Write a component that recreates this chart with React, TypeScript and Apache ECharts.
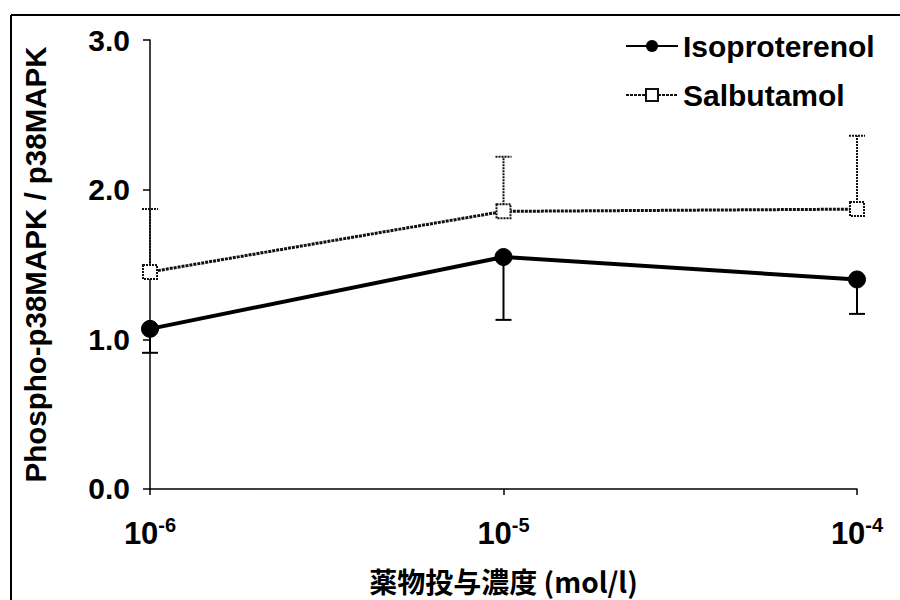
import React, { useEffect, useRef } from "react";
import * as echarts from "echarts";

const concentrations = [1e-6, 1e-5, 1e-4];
const isoproterenolMean = [1.07, 1.55, 1.40];
const isoproterenolLow = [0.91, 1.13, 1.17];
const salbutamolMean = [1.45, 1.855, 1.87];
const salbutamolHigh = [1.87, 2.22, 2.36];
const yTicks = [0, 1, 2, 3];

const FONT = "Liberation Sans, Arial, sans-serif";

function errorRender(color: string, dash: any, width: number) {
  return (params: any, api: any) => {
    const x = api.value(0);
    const from = api.coord([x, api.value(1)]);
    const to = api.coord([x, api.value(2)]);
    const half = 8;
    return {
      type: "group",
      children: [
        {
          type: "line",
          shape: { x1: from[0], y1: from[1], x2: to[0], y2: to[1] },
          style: { stroke: color, lineWidth: width, lineDash: dash },
        },
        {
          type: "line",
          shape: { x1: to[0] - half, y1: to[1], x2: to[0] + half, y2: to[1] },
          style: { stroke: color, lineWidth: width, lineDash: dash },
        },
      ],
    };
  };
}

export default function App() {
  const ref = useRef<HTMLDivElement>(null);
  useEffect(() => {
    if (!ref.current) return;
    const chart = echarts.init(ref.current, null, { renderer: "svg" });
    const isoData = concentrations.map((c, i) => [c, isoproterenolMean[i]]);
    const salData = concentrations.map((c, i) => [c, salbutamolMean[i]]);
    const isoErr = concentrations.map((c, i) => [c, isoproterenolMean[i], isoproterenolLow[i]]);
    const salErr = concentrations.map((c, i) => [c, salbutamolMean[i], salbutamolHigh[i]]);
    chart.setOption({
      animation: false,
      backgroundColor: "#fff",
      textStyle: { fontFamily: FONT },
      grid: { left: 150, right: 43, top: 40, bottom: 107, containLabel: false },
      graphic: [
        { type: "line", shape: { x1: 11, y1: 15, x2: 900, y2: 15 }, style: { stroke: "#000", lineWidth: 2 } },
        { type: "line", shape: { x1: 11, y1: 15, x2: 11, y2: 600 }, style: { stroke: "#000", lineWidth: 2 } },
      ],
      legend: {
        orient: "vertical",
        left: 620,
        top: 25,
        itemWidth: 52,
        itemHeight: 15,
        itemGap: 17,
        textStyle: { fontSize: 30, fontWeight: "bold", color: "#000", fontFamily: FONT, lineHeight: 32 },
        data: ["Isoproterenol", "Salbutamol"],
      },
      xAxis: {
        type: "log",
        logBase: 10,
        min: 1e-6,
        max: 1e-4,
        name: "薬物投与濃度 (mol/l)",
        nameLocation: "middle",
        nameGap: 78,
        nameTextStyle: { fontSize: 28, fontWeight: "bold", color: "#000", fontFamily: "Noto Sans CJK JP, " + FONT },
        axisLine: { lineStyle: { color: "#000", width: 1.5 } },
        axisTick: { show: true, length: 6, lineStyle: { color: "#000", width: 1.5 } },
        splitLine: { show: false },
        minorTick: { show: false },
        axisLabel: {
          margin: 26,
          formatter: (v: number) => `{b|10}{s|${Math.round(Math.log10(v))}}`,
          rich: {
            b: { fontSize: 31, fontWeight: "bold", color: "#000", fontFamily: FONT, lineHeight: 34, verticalAlign: "bottom" },
            s: { fontSize: 20, fontWeight: "bold", color: "#000", fontFamily: FONT, lineHeight: 34, verticalAlign: "top", padding: [0, 0, 14, 0] },
          },
        },
      },
      yAxis: {
        type: "value",
        min: 0,
        max: 3,
        interval: 1,
        name: "Phospho-p38MAPK / p38MAPK",
        nameLocation: "middle",
        nameRotate: 90,
        nameGap: 100,
        nameTextStyle: { fontSize: 29.5, fontWeight: "bold", color: "#000", fontFamily: FONT },
        axisLine: { show: true, lineStyle: { color: "#000", width: 1.5 } },
        axisTick: { show: true, length: 7, lineStyle: { color: "#000", width: 1.5 } },
        splitLine: { show: false },
        axisLabel: {
          margin: 20,
          fontSize: 30,
          fontWeight: "bold",
          color: "#000",
          fontFamily: FONT,
          formatter: (v: number) => (yTicks.includes(v) ? v.toFixed(1) : ""),
        },
      },
      series: [
        {
          name: "Salbutamol",
          type: "line",
          data: salData,
          z: 3,
          clip: false,
          symbol: "rect",
          symbolSize: 14,
          lineStyle: { color: "#111", width: 3, type: [3, 1] },
          itemStyle: { color: "#fff", borderColor: "#111", borderWidth: 2, borderType: [2, 1] },
        },
        {
          name: "Isoproterenol",
          type: "line",
          data: isoData,
          z: 4,
          clip: false,
          symbol: "circle",
          symbolSize: 17,
          lineStyle: { color: "#000", width: 4 },
          itemStyle: { color: "#000", borderColor: "#000" },
        },
        {
          name: "isoErr",
          type: "custom",
          data: isoErr,
          z: 2,
          encode: { x: 0, y: [1, 2] },
          renderItem: errorRender("#000", null, 2),
        },
        {
          name: "salErr",
          type: "custom",
          data: salErr,
          z: 2,
          encode: { x: 0, y: [1, 2] },
          renderItem: errorRender("#111", [2, 1], 2),
        },
      ],
    });
    return () => chart.dispose();
  }, []);
  return <div ref={ref} style={{ position: "fixed", left: 0, top: 0, width: 900, height: 600 }} />;
}
